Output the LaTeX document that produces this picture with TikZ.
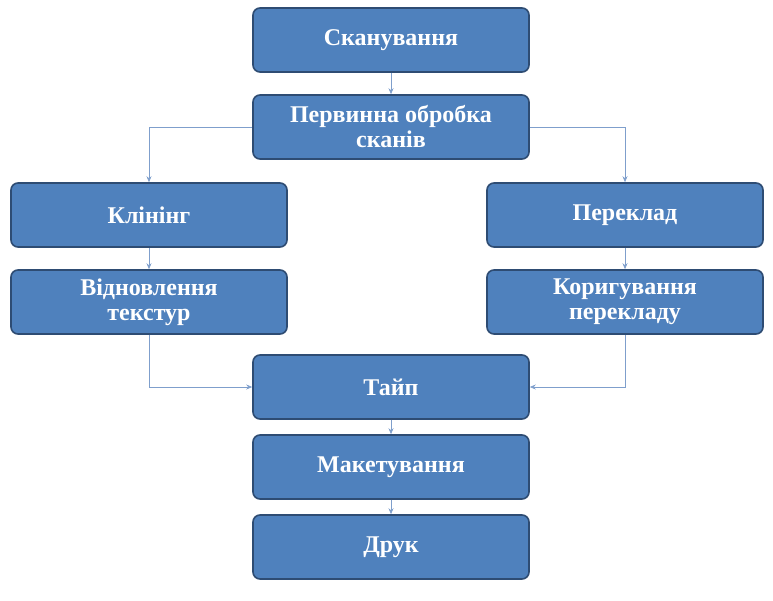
\documentclass[tikz,border=0pt]{standalone}
\usepackage{fontspec}
\setmainfont{Liberation Serif}
\usetikzlibrary{arrows.meta}
\definecolor{boxfill}{HTML}{4F81BD}
\definecolor{boxdraw}{HTML}{2E4C73}
\definecolor{linec}{HTML}{7F9FCC}
\begin{document}
\begin{tikzpicture}[x=1pt,y=-1pt,
  box/.style={draw=boxdraw,line width=1.6pt,fill=boxfill,rounded corners=7pt,minimum width=276pt,minimum height=64pt,inner sep=0pt,align=center,text=white,font=\fontsize{24}{25}\selectfont\bfseries},
  conn/.style={draw=linec,line width=0.7pt,-{Stealth[length=6pt,width=5pt,inset=2pt]}}]
\useasboundingbox (0,0) rectangle (773,600);
\node[box] (a) at (391,40) {Сканування};
\node[box] (b) at (391,127) {Первинна обробка\\сканів};
\node[box] (c) at (149,215) {Клінінг};
\node[box] (d) at (625,215) {Переклад};
\node[box] (e) at (149,302) {Відновлення\\текстур};
\node[box] (f) at (625,302) {Коригування\\перекладу};
\node[box] (g) at (391,387) {Тайп};
\node[box] (h) at (391,467) {Макетування};
\node[box] (i) at (391,547) {Друк};
\draw[conn] (a) -- (b);
\draw[conn] (b.west) -| (c.north);
\draw[conn] (b.east) -| (d.north);
\draw[conn] (c) -- (e);
\draw[conn] (d) -- (f);
\draw[conn] (e.south) |- (g.west);
\draw[conn] (f.south) |- (g.east);
\draw[conn] (g) -- (h);
\draw[conn] (h) -- (i);
\end{tikzpicture}
\end{document}
